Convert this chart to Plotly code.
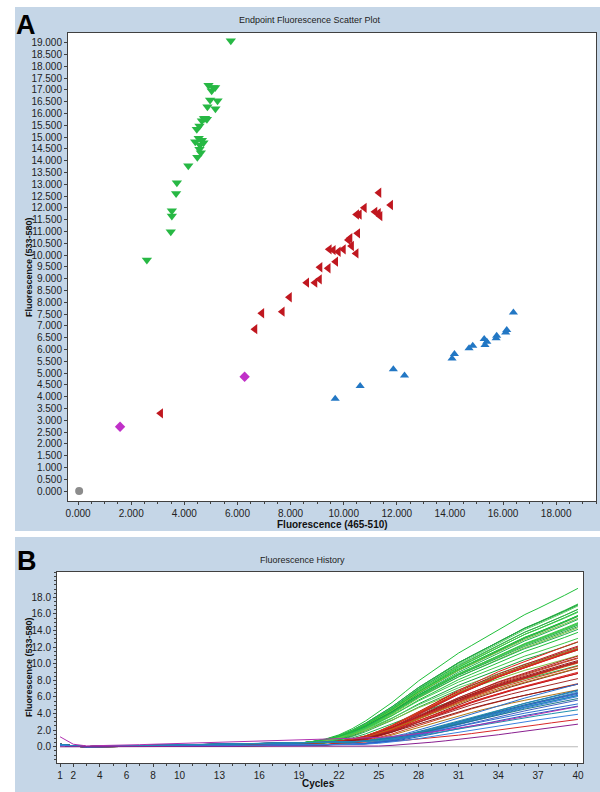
import plotly.graph_objects as go

# ---------------- Panel A data (endpoint fluorescence) ----------------
green_x = [5750, 4910, 5090, 5030, 5160, 4970, 5250, 4870, 5170, 4740, 4850, 4660, 4570, 4470,
           4410, 4660, 4590, 4720, 4570, 4620, 4490, 4150, 3720, 3690, 3530, 3530, 3490, 2590,
           4780, 4540]
green_y = [19080, 17200, 17100, 16960, 17100, 16570, 16540, 16280, 16200, 15790, 15750, 15690, 15470, 15330,
           14800, 14870, 14660, 14760, 14480, 14340, 14140, 13780, 13060, 12610, 11880, 11650, 10990, 9790,
           15800, 14950]

red_x = [11330, 11770, 10780, 10590, 10490, 11180, 11310, 11370, 10530, 10240, 10180, 10300, 10470, 9990,
         9800, 9610, 9460, 9700, 9420, 9110, 9090, 8920, 8610, 7960, 7690, 6920, 6660, 3110]
red_y = [12640, 12120, 12000, 11720, 11720, 11830, 11770, 11650, 10920, 10710, 10640, 10380, 10070, 10240,
         10140, 10210, 10240, 9720, 9440, 9480, 8970, 8830, 8830, 8210, 7600, 7530, 6860, 3290]

blue_x = [16390, 16140, 16100, 15760, 15740, 15290, 15390, 15320, 14860, 14720, 14170, 14080, 11870, 12290,
          10620, 9680]
blue_y = [7560, 6820, 6720, 6580, 6470, 6440, 6330, 6190, 6160, 6050, 5810, 5620, 5160, 4890,
          4450, 3910]

magenta_x = [6270, 1580]
magenta_y = [4840, 2720]

grey_x = [40]
grey_y = [0]

x_ticks_a = [0, 2000, 4000, 6000, 8000, 10000, 12000, 14000, 16000, 18000]
x_ticktext_a = ["0.000", "2.000", "4.000", "6.000", "8.000", "10.000", "12.000", "14.000", "16.000", "18.000"]
y_ticks_a = list(range(0, 19001, 500))
y_ticktext_a = [f"{v // 1000}.{v % 1000:03d}" for v in y_ticks_a]

# ---------------- Panel B data (fluorescence history) ----------------
cycles = list(range(1, 41))
x_ticks_b = [1, 2, 4, 6, 8, 10, 13, 16, 19, 22, 25, 28, 31, 34, 37, 40]
y_ticks_b = [0, 2, 4, 6, 8, 10, 12, 14, 16, 18]
y_ticktext_b = ["0.0", "2.0", "4.0", "6.0", "8.0", "10.0", "12.0", "14.0", "16.0", "18.0"]

# normalised growth shapes (cycles 1..40)
prof_green = [0] * 19 + [0.01, 0.025, 0.05, 0.09, 0.14, 0.2, 0.26, 0.33, 0.40, 0.46, 0.52, 0.58, 0.63,
                         0.68, 0.73, 0.78, 0.83, 0.87, 0.91, 0.955, 1.0]
prof_red = [0] * 20 + [0.005, 0.015, 0.035, 0.07, 0.12, 0.18, 0.25, 0.32, 0.39, 0.46, 0.53, 0.59, 0.65,
                       0.71, 0.76, 0.81, 0.86, 0.91, 0.955, 1.0]
prof_blue = [0] * 21 + [0.005, 0.015, 0.03, 0.06, 0.10, 0.15, 0.21, 0.28, 0.35, 0.42, 0.49, 0.56, 0.63,
                        0.70, 0.76, 0.82, 0.88, 0.94, 1.0]
prof_late = [0] * 23 + [0.01, 0.03, 0.06, 0.1, 0.15, 0.2, 0.26, 0.32, 0.39, 0.46, 0.53, 0.61, 0.69,
                        0.77, 0.85, 0.92, 1.0]
prof_flat = [0] * 40

# baselines read from the early cycles
base_hi = [0.3, 0.1, 0.02, 0.05, 0.07, 0.1, 0.12, 0.15, 0.18, 0.2, 0.23, 0.25, 0.28, 0.3, 0.33, 0.35,
           0.38, 0.4, 0.43, 0.45, 0.47] + [0.5] * 19
base_lo = [0.2, 0.05, 0.0, 0.02, 0.03, 0.04, 0.05, 0.06, 0.07, 0.08, 0.09, 0.1, 0.11, 0.12, 0.13, 0.14,
           0.15, 0.16, 0.17, 0.18] + [0.19] + [0.2] * 19
base_mag = [1.2, 0.3, 0.1, 0.12, 0.15, 0.2, 0.25, 0.3, 0.35, 0.4, 0.45, 0.5, 0.55, 0.6, 0.65, 0.7, 0.75,
            0.8, 0.85, 0.9, 0.95] + [1.0] * 19
base_zero = [0.0] * 40

green_line_colors = ["#1fbf3a", "#3cc84a", "#15a03a", "#55d060", "#2aa84a", "#7cc040", "#20b050"]
red_line_colors = ["#e3211c", "#c0181c", "#a52a2a", "#d04020", "#8b1a1a", "#b07818", "#d82828"]
blue_line_colors = ["#2a70d0", "#1e5fbf", "#2090b0", "#3a80e0", "#207a8a", "#4060c0"]

BG = "#c5d6e7"
FONT = "Liberation Sans"

fig = go.Figure()


def curve(base, prof, end):
    top = end - base[-1]
    return [b + top * p for b, p in zip(base, prof)]


# grey flat line
fig.add_trace(go.Scatter(x=cycles, y=curve(base_zero, prof_flat, grey_y[0] / 1000), mode="lines",
                         line=dict(color="#b8b8b8", width=1.2), xaxis="x2", yaxis="y2", showlegend=False))
for i, v in enumerate(green_y):
    base = base_hi if i % 2 == 0 else base_lo
    fig.add_trace(go.Scatter(x=cycles, y=curve(base, prof_green, v / 1000), mode="lines",
                             line=dict(color=green_line_colors[i % len(green_line_colors)], width=1),
                             xaxis="x2", yaxis="y2", showlegend=False))
for i, v in enumerate(red_y):
    base = base_hi if i % 2 == 1 else base_lo
    prof = prof_late if v < 4000 else prof_red
    fig.add_trace(go.Scatter(x=cycles, y=curve(base, prof, v / 1000), mode="lines",
                             line=dict(color=red_line_colors[i % len(red_line_colors)], width=1),
                             xaxis="x2", yaxis="y2", showlegend=False))
for i, v in enumerate(blue_y):
    base = base_hi if i % 2 == 0 else base_lo
    fig.add_trace(go.Scatter(x=cycles, y=curve(base, prof_blue, v / 1000), mode="lines",
                             line=dict(color=blue_line_colors[i % len(blue_line_colors)], width=1),
                             xaxis="x2", yaxis="y2", showlegend=False))
mag_bases = [base_mag, base_zero]
mag_colors = ["#b030b0", "#8a2090"]
for i, v in enumerate(magenta_y):
    fig.add_trace(go.Scatter(x=cycles, y=curve(mag_bases[i], prof_late, v / 1000), mode="lines",
                             line=dict(color=mag_colors[i], width=1),
                             xaxis="x2", yaxis="y2", showlegend=False))

# scatter panel A
fig.add_trace(go.Scatter(x=grey_x, y=grey_y, mode="markers",
                         marker=dict(symbol="circle", size=8, color="#8c8c8c"), showlegend=False))
fig.add_trace(go.Scatter(x=magenta_x, y=magenta_y, mode="markers",
                         marker=dict(symbol="diamond", size=8, color="#c030c8"), showlegend=False))
fig.add_trace(go.Scatter(x=blue_x, y=blue_y, mode="markers",
                         marker=dict(symbol="triangle-up", size=8, color="#2277c4"), showlegend=False))
fig.add_trace(go.Scatter(x=red_x, y=red_y, mode="markers",
                         marker=dict(symbol="triangle-left", size=9, color="#c0171f"), showlegend=False))
fig.add_trace(go.Scatter(x=green_x, y=green_y, mode="markers",
                         marker=dict(symbol="triangle-down", size=9, color="#27b844"), showlegend=False))

W, H = 600, 792


def px(x):
    return x / W


def py(y):
    return 1 - y / H


tickfont = dict(family=FONT, size=10, color="#222222")
axcommon = dict(showgrid=False, zeroline=False, showline=True, mirror=True, linecolor="#404040",
                linewidth=1, ticks="outside", ticklen=3, tickcolor="#404040", tickfont=tickfont,
                automargin=False)

white_strips = [(0, 0, 600, 7), (0, 0, 15, 792), (0, 531, 600, 537)]


def label(text, x, y, size, weight="normal", angle=0, color="#222222"):
    return dict(text=text, x=px(x), y=py(y), xref="paper", yref="paper", showarrow=False,
                xanchor="center", yanchor="middle", textangle=angle, borderpad=0,
                font=dict(family=FONT, size=size, color=color, weight=weight))


fig.update_layout(
    width=W, height=H, margin=dict(l=0, r=0, t=0, b=0, pad=0),
    paper_bgcolor=BG, plot_bgcolor="white",
    xaxis=dict(domain=[px(68), px(596)], range=[-380, 19500], tickvals=x_ticks_a, ticktext=x_ticktext_a,
               minor=dict(dtick=500, tick0=0, ticks="outside", ticklen=2, tickcolor="#404040"),
               anchor="y", **axcommon),
    yaxis=dict(domain=[py(501), py(33)], range=[-424, 19410], tickvals=y_ticks_a, ticktext=y_ticktext_a,
               anchor="x", **axcommon),
    xaxis2=dict(domain=[px(57), px(583)], range=[0.77, 40.38], tickvals=x_ticks_b,
                ticktext=[str(t) for t in x_ticks_b],
                minor=dict(dtick=1, tick0=1, ticks="outside", ticklen=2, tickcolor="#404040"),
                anchor="y2", **axcommon),
    yaxis2=dict(domain=[py(763), py(572)], range=[-1.96, 21.05], tickvals=y_ticks_b, ticktext=y_ticktext_b,
                minor=dict(dtick=0.5, tick0=0, ticks="outside", ticklen=2, tickcolor="#404040"),
                anchor="x2", **axcommon),
    shapes=[
        dict(type="rect", xref="paper", yref="paper", x0=px(a), x1=px(c), y0=py(d), y1=py(b),
             fillcolor="white", line=dict(width=0), layer="below")
        for (a, b, c, d) in white_strips
    ],
    annotations=[
        label("A", 26, 25, 27, "bold", color="black"),
        label("B", 27, 561, 27, "bold", color="black"),
        label("Endpoint Fluorescence Scatter Plot", 310, 20, 9),
        label("Fluorescence History", 302, 560, 9),
        label("Fluorescence (465-510)", 332, 524, 10, "bold", color="#111111"),
        label("Fluorescence (533-580)", 29, 267, 9, "bold", angle=-90, color="#111111"),
        label("Cycles", 318, 783, 10, "bold", color="#111111"),
        label("Fluorescence (533-580)", 29, 667, 9, "bold", angle=-90, color="#111111"),
    ],
)

fig.write_html("out.html", config={"displayModeBar": False},
               post_script="document.body.style.margin='0';document.body.style.overflow='hidden';")
